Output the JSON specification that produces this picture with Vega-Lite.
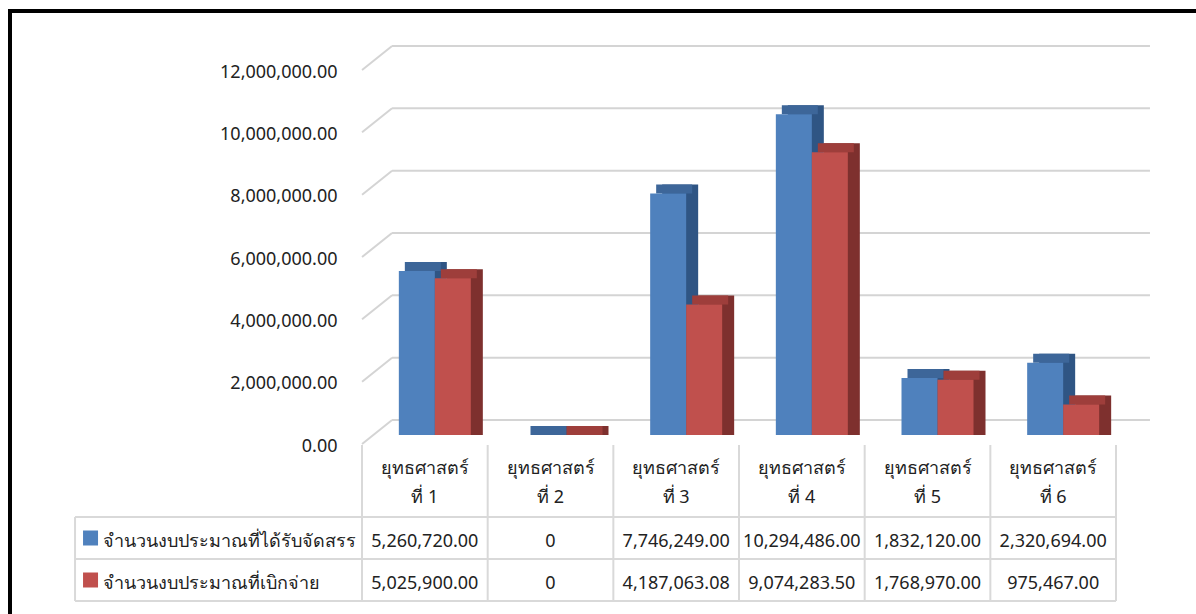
{
  "$schema": "https://vega.github.io/schema/vega-lite/v6.json",
  "width": 1206,
  "height": 623,
  "autosize": {"type": "none"},
  "padding": {"left": 10, "top": 11, "right": -20, "bottom": -20},
  "background": "white",
  "view": {"stroke": "black", "strokeWidth": 4, "fill": "white"},
  "config": {
    "font": "Noto Sans",
    "text": {"font": "Noto Sans", "fontSize": 18, "color": "#222222"},
    "axisX": {"disable": true}
  },
  "datasets": {
    "budget": [
      {"strategy": "ยุทธศาสตร์\nที่ 1", "series": "จำนวนงบประมาณที่ได้รับจัดสรร", "value": 5260720.00},
      {"strategy": "ยุทธศาสตร์\nที่ 2", "series": "จำนวนงบประมาณที่ได้รับจัดสรร", "value": 0},
      {"strategy": "ยุทธศาสตร์\nที่ 3", "series": "จำนวนงบประมาณที่ได้รับจัดสรร", "value": 7746249.00},
      {"strategy": "ยุทธศาสตร์\nที่ 4", "series": "จำนวนงบประมาณที่ได้รับจัดสรร", "value": 10294486.00},
      {"strategy": "ยุทธศาสตร์\nที่ 5", "series": "จำนวนงบประมาณที่ได้รับจัดสรร", "value": 1832120.00},
      {"strategy": "ยุทธศาสตร์\nที่ 6", "series": "จำนวนงบประมาณที่ได้รับจัดสรร", "value": 2320694.00},
      {"strategy": "ยุทธศาสตร์\nที่ 1", "series": "จำนวนงบประมาณที่เบิกจ่าย", "value": 5025900.00},
      {"strategy": "ยุทธศาสตร์\nที่ 2", "series": "จำนวนงบประมาณที่เบิกจ่าย", "value": 0},
      {"strategy": "ยุทธศาสตร์\nที่ 3", "series": "จำนวนงบประมาณที่เบิกจ่าย", "value": 4187063.08},
      {"strategy": "ยุทธศาสตร์\nที่ 4", "series": "จำนวนงบประมาณที่เบิกจ่าย", "value": 9074283.50},
      {"strategy": "ยุทธศาสตร์\nที่ 5", "series": "จำนวนงบประมาณที่เบิกจ่าย", "value": 1768970.00},
      {"strategy": "ยุทธศาสตร์\nที่ 6", "series": "จำนวนงบประมาณที่เบิกจ่าย", "value": 975467.00}
    ],
    "ticks": [
      {"tick": 0}, {"tick": 2000000}, {"tick": 4000000}, {"tick": 6000000},
      {"tick": 8000000}, {"tick": 10000000}, {"tick": 12000000}
    ],
    "one": [{}]
  },
  "layer": [
    {
      "layer": [
        {
          "data": {"name": "ticks"},
          "mark": {"type": "rule", "color": "#D4D4D4", "strokeWidth": 2, "xOffset": -32.8, "x2Offset": 96.8, "yOffset": -15, "y2Offset": -15},
          "encoding": {
            "x": {"datum": "ยุทธศาสตร์\nที่ 1", "type": "nominal", "bandPosition": 0.5},
            "x2": {"datum": "ยุทธศาสตร์\nที่ 6"},
            "y": {"field": "tick", "type": "quantitative", "title": null},
            "y2": {"field": "tick"}
          }
        },
        {
          "data": {"name": "ticks"},
          "mark": {"type": "rule", "color": "#D4D4D4", "strokeWidth": 2, "xOffset": -62.8, "x2Offset": -32.8, "yOffset": 9, "y2Offset": -15},
          "encoding": {
            "x": {"datum": "ยุทธศาสตร์\nที่ 1", "type": "nominal", "bandPosition": 0.5},
            "x2": {"datum": "ยุทธศาสตร์\nที่ 1"},
            "y": {"field": "tick", "type": "quantitative", "title": null},
            "y2": {"field": "tick"}
          }
        },
        {
          "data": {"name": "budget"},
          "transform": [{"filter": {"field": "series", "equal": "จำนวนงบประมาณที่ได้รับจัดสรร"}}],
          "mark": {"type": "bar", "width": 36, "xOffset": 4, "yOffset": -9, "color": "#2F5584"},
          "encoding": {
            "x": {"field": "strategy", "type": "nominal"},
            "y": {"field": "value", "type": "quantitative", "title": null},
            "y2": {"datum": 0}
          }
        },
        {
          "data": {"name": "budget"},
          "transform": [{"filter": {"field": "series", "equal": "จำนวนงบประมาณที่เบิกจ่าย"}}],
          "mark": {"type": "bar", "width": 36, "xOffset": 40, "yOffset": -9, "color": "#7E302E"},
          "encoding": {
            "x": {"field": "strategy", "type": "nominal"},
            "y": {"field": "value", "type": "quantitative", "title": null},
            "y2": {"datum": 0}
          }
        },
        {
          "data": {"name": "budget"},
          "transform": [{"filter": {"field": "series", "equal": "จำนวนงบประมาณที่ได้รับจัดสรร"}}],
          "mark": {"type": "bar", "width": 36, "xOffset": -2, "yOffset": -9, "color": "#3D6699"},
          "encoding": {
            "x": {"field": "strategy", "type": "nominal"},
            "y": {"field": "value", "type": "quantitative", "title": null},
            "y2": {"field": "value"}
          }
        },
        {
          "data": {"name": "budget"},
          "transform": [{"filter": {"field": "series", "equal": "จำนวนงบประมาณที่เบิกจ่าย"}}],
          "mark": {"type": "bar", "width": 36, "xOffset": 34, "yOffset": -9, "color": "#9E3E3B"},
          "encoding": {
            "x": {"field": "strategy", "type": "nominal"},
            "y": {"field": "value", "type": "quantitative", "title": null},
            "y2": {"field": "value"}
          }
        },
        {
          "data": {"name": "budget"},
          "transform": [{"filter": {"field": "series", "equal": "จำนวนงบประมาณที่ได้รับจัดสรร"}}],
          "mark": {"type": "bar", "width": 36, "xOffset": -8, "color": "#4F81BD"},
          "encoding": {
            "x": {
              "field": "strategy", "type": "nominal",
              "scale": {
                "domain": ["ยุทธศาสตร์\nที่ 1", "ยุทธศาสตร์\nที่ 2", "ยุทธศาสตร์\nที่ 3", "ยุทธศาสตร์\nที่ 4", "ยุทธศาสตร์\nที่ 5", "ยุทธศาสตร์\nที่ 6"],
                "range": [352, 1106], "paddingInner": 0.427, "paddingOuter": 0.2135
              }
            },
            "y": {
              "field": "value", "type": "quantitative", "title": null,
              "scale": {"domain": [0, 12000000], "range": [424, 50], "nice": false, "zero": true},
              "axis": {
                "values": [0, 2000000, 4000000, 6000000, 8000000, 10000000, 12000000],
                "format": ",.2f", "offset": -327, "ticks": false, "tickSize": 0, "domain": false, "grid": false,
                "labelPadding": 0, "labelOffset": 11, "labelAlign": "right", "labelBaseline": "middle",
                "labelFont": "Noto Sans", "labelFontSize": 18, "labelColor": "#222222", "title": null
              }
            },
            "y2": {"datum": 0}
          }
        },
        {
          "data": {"name": "budget"},
          "transform": [{"filter": {"field": "series", "equal": "จำนวนงบประมาณที่เบิกจ่าย"}}],
          "mark": {"type": "bar", "width": 36, "xOffset": 28, "color": "#C0504D"},
          "encoding": {
            "x": {"field": "strategy", "type": "nominal"},
            "y": {"field": "value", "type": "quantitative", "title": null},
            "y2": {"datum": 0}
          }
        }
      ]
    },
    {
      "layer": [
        {
          "data": {"name": "budget"},
          "transform": [{"filter": {"field": "series", "equal": "จำนวนงบประมาณที่ได้รับจัดสรร"}}],
          "mark": {"type": "rule", "color": "#D9D9D9", "strokeWidth": 2, "xOffset": -62.83, "yOffset": -93, "y2Offset": 21},
          "encoding": {
            "x": {"field": "strategy", "type": "nominal", "bandPosition": 0.5},
            "y": {"datum": "จำนวนงบประมาณที่ได้รับจัดสรร", "type": "nominal", "bandPosition": 0.5, "axis": null, "scale": {"type": "band", "domain": ["จำนวนงบประมาณที่ได้รับจัดสรร", "จำนวนงบประมาณที่เบิกจ่าย"], "range": [506, 590], "paddingInner": 0, "paddingOuter": 0}},
            "y2": {"datum": "จำนวนงบประมาณที่เบิกจ่าย"}
          }
        },
        {
          "data": {"name": "one"},
          "mark": {"type": "rule", "color": "#D9D9D9", "strokeWidth": 2, "xOffset": 62.83, "yOffset": -93, "y2Offset": 21},
          "encoding": {
            "x": {"datum": "ยุทธศาสตร์\nที่ 6", "type": "nominal", "bandPosition": 0.5},
            "y": {"datum": "จำนวนงบประมาณที่ได้รับจัดสรร", "type": "nominal", "bandPosition": 0.5, "axis": null},
            "y2": {"datum": "จำนวนงบประมาณที่เบิกจ่าย"}
          }
        },
        {
          "data": {"name": "one"},
          "mark": {"type": "rule", "color": "#D9D9D9", "strokeWidth": 2, "xOffset": -349.8, "yOffset": -21, "y2Offset": 21},
          "encoding": {
            "x": {"datum": "ยุทธศาสตร์\nที่ 1", "type": "nominal", "bandPosition": 0.5},
            "y": {"datum": "จำนวนงบประมาณที่ได้รับจัดสรร", "type": "nominal", "bandPosition": 0.5, "axis": null},
            "y2": {"datum": "จำนวนงบประมาณที่เบิกจ่าย"}
          }
        },
        {
          "data": {"name": "one"},
          "mark": {"type": "rule", "color": "#D9D9D9", "strokeWidth": 2, "xOffset": -349.8, "x2Offset": 62.83, "yOffset": -21},
          "encoding": {
            "x": {"datum": "ยุทธศาสตร์\nที่ 1", "type": "nominal", "bandPosition": 0.5},
            "x2": {"datum": "ยุทธศาสตร์\nที่ 6"},
            "y": {"datum": "จำนวนงบประมาณที่ได้รับจัดสรร", "type": "nominal", "bandPosition": 0.5, "axis": null}
          }
        },
        {
          "data": {"name": "one"},
          "mark": {"type": "rule", "color": "#D9D9D9", "strokeWidth": 2, "xOffset": -349.8, "x2Offset": 62.83, "yOffset": -21},
          "encoding": {
            "x": {"datum": "ยุทธศาสตร์\nที่ 1", "type": "nominal", "bandPosition": 0.5},
            "x2": {"datum": "ยุทธศาสตร์\nที่ 6"},
            "y": {"datum": "จำนวนงบประมาณที่เบิกจ่าย", "type": "nominal", "bandPosition": 0.5, "axis": null}
          }
        },
        {
          "data": {"name": "one"},
          "mark": {"type": "rule", "color": "#D9D9D9", "strokeWidth": 2, "xOffset": -349.8, "x2Offset": 62.83, "yOffset": 21},
          "encoding": {
            "x": {"datum": "ยุทธศาสตร์\nที่ 1", "type": "nominal", "bandPosition": 0.5},
            "x2": {"datum": "ยุทธศาสตร์\nที่ 6"},
            "y": {"datum": "จำนวนงบประมาณที่เบิกจ่าย", "type": "nominal", "bandPosition": 0.5, "axis": null}
          }
        },
        {
          "data": {"name": "budget"},
          "transform": [{"filter": {"field": "series", "equal": "จำนวนงบประมาณที่ได้รับจัดสรร"}}],
          "mark": {"type": "text", "lineBreak": "\n", "lineHeight": 29, "baseline": "middle", "align": "center", "yOffset": -69},
          "encoding": {
            "x": {"field": "strategy", "type": "nominal", "bandPosition": 0.5},
            "y": {"datum": "จำนวนงบประมาณที่ได้รับจัดสรร", "type": "nominal", "bandPosition": 0.5, "axis": null},
            "text": {"field": "strategy", "type": "nominal"}
          }
        },
        {
          "data": {"name": "budget"},
          "mark": {"type": "text", "baseline": "middle", "align": "center", "yOffset": 4},
          "encoding": {
            "x": {"field": "strategy", "type": "nominal", "bandPosition": 0.5},
            "y": {"field": "series", "type": "nominal", "bandPosition": 0.5, "axis": null},
            "text": {"condition": {"test": "datum.value === 0", "value": "0"}, "field": "value", "type": "quantitative", "format": ",.2f"}
          }
        },
        {
          "data": {"name": "budget"},
          "transform": [{"filter": {"field": "strategy", "equal": "ยุทธศาสตร์\nที่ 1"}}],
          "mark": {"type": "point", "shape": "square", "size": 225, "filled": true, "opacity": 1, "xOffset": -334.3},
          "encoding": {
            "x": {"datum": "ยุทธศาสตร์\nที่ 1", "type": "nominal", "bandPosition": 0.5},
            "y": {"field": "series", "type": "nominal", "bandPosition": 0.5, "axis": null},
            "color": {
              "field": "series", "type": "nominal", "legend": null,
              "scale": {"domain": ["จำนวนงบประมาณที่ได้รับจัดสรร", "จำนวนงบประมาณที่เบิกจ่าย"], "range": ["#4F81BD", "#C0504D"]}
            }
          }
        },
        {
          "data": {"name": "budget"},
          "transform": [{"filter": {"field": "strategy", "equal": "ยุทธศาสตร์\nที่ 1"}}],
          "mark": {"type": "text", "baseline": "middle", "align": "left", "xOffset": -321.8, "yOffset": 4},
          "encoding": {
            "x": {"datum": "ยุทธศาสตร์\nที่ 1", "type": "nominal", "bandPosition": 0.5},
            "y": {"field": "series", "type": "nominal", "bandPosition": 0.5, "axis": null},
            "text": {"field": "series", "type": "nominal"}
          }
        }
      ]
    }
  ],
  "resolve": {"scale": {"y": "independent"}}
}
